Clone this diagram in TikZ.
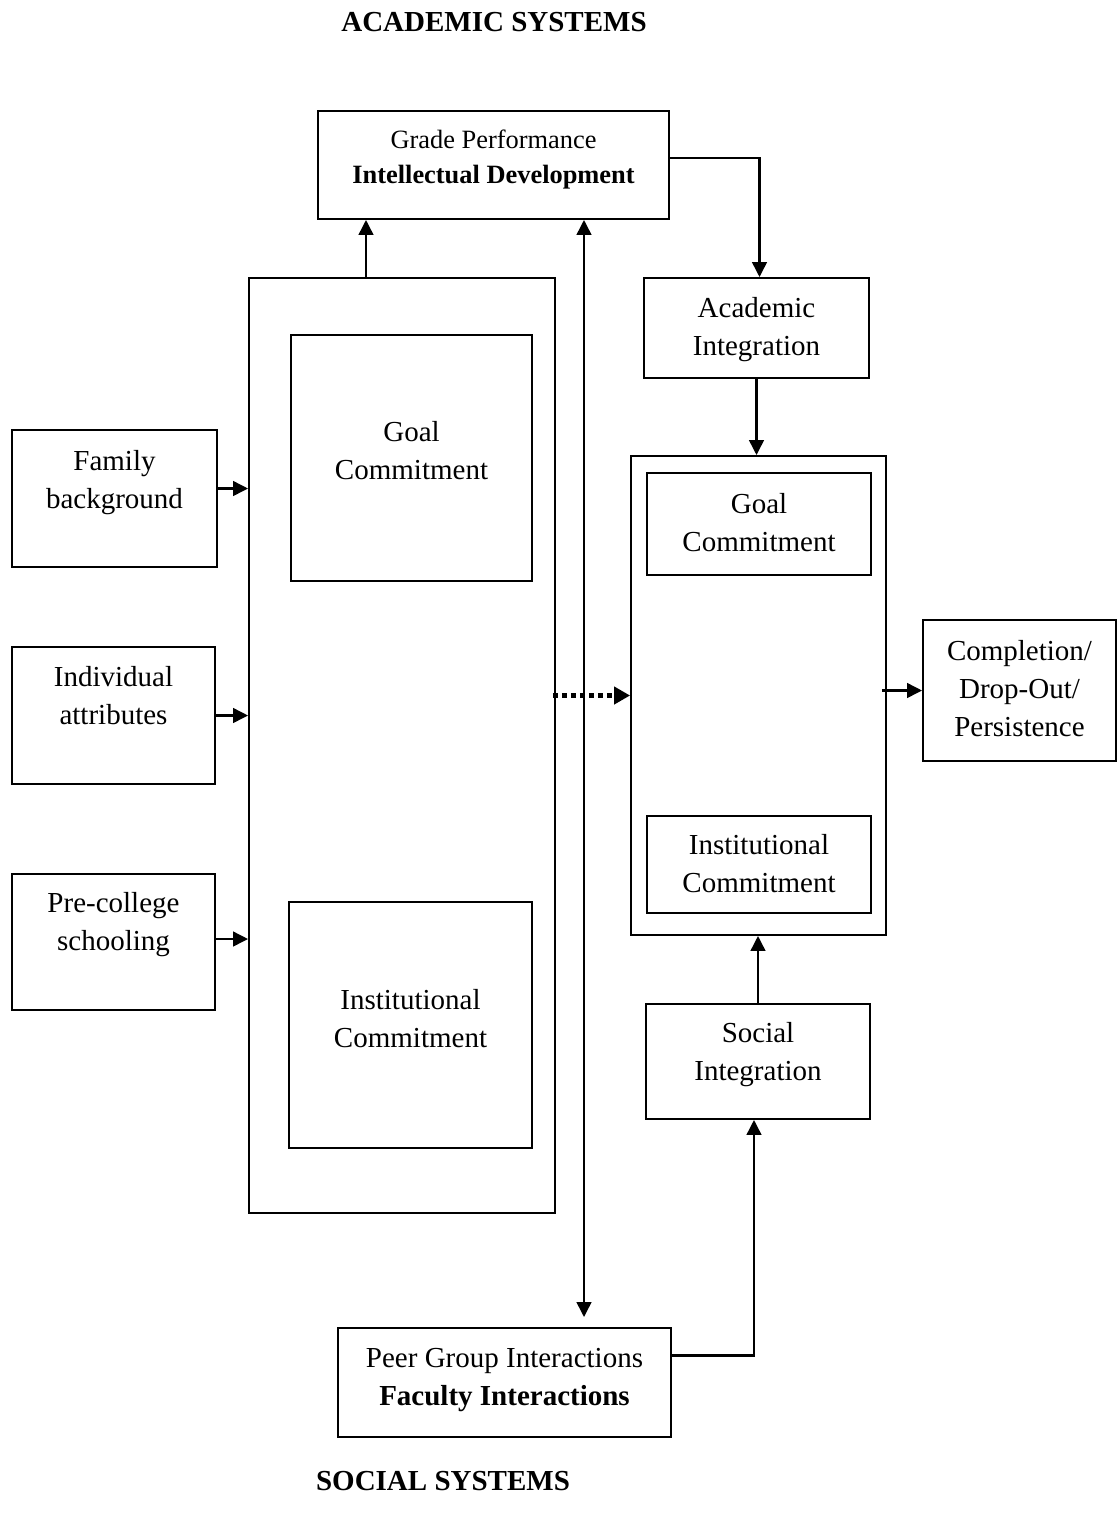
\documentclass[tikz,border=0pt]{standalone}
\usepackage{fontspec}
\setmainfont{Liberation Serif}
\usepackage{tikz}
\usetikzlibrary{arrows.meta,positioning,calc}
\newcommand{\boxlines}[2]{\raisebox{#1}[\height][\depth]{\begin{tabular}{@{}c@{}}#2\end{tabular}}}

\begin{document}
\begin{tikzpicture}[
    x=1pt, y=-1pt,
    box/.style={rectangle, draw, line width=1.8pt, inner sep=0pt, font=\fontsize{29}{38}\selectfont},
    arrow/.style={->, >={Triangle[length=15pt,width=14.5pt]}, line width=2.7pt},
    title/.style={font=\fontsize{29}{35}\selectfont\bfseries}
]
    \useasboundingbox (0,0) rectangle (1117,1524);

    % Titles
    \node[title] (acadsys) at (494,22) {ACADEMIC SYSTEMS};
    \node[title] (socsys) at (443,1481) {SOCIAL SYSTEMS};

    % Top and bottom boxes
    \node[box, minimum width=351pt, minimum height=108pt, font=\fontsize{26.4}{35}\selectfont] (grade) at (493.5,165) {\boxlines{6.5pt}{Grade Performance\\\textbf{Intellectual Development}}};
    \node[box, minimum width=333pt, minimum height=109pt] (peer) at (504.5,1382.5) {\boxlines{3.5pt}{Peer Group Interactions\\\textbf{Faculty Interactions}}};

    % Left column (background)
    \node[box, minimum width=205pt, minimum height=137pt] (family) at (114.5,498.5) {\boxlines{17pt}{Family\\background}};
    \node[box, minimum width=203pt, minimum height=137pt] (attrib) at (113.5,715.5) {\boxlines{17.5pt}{Individual\\attributes}};
    \node[box, minimum width=203pt, minimum height=136pt] (school) at (113.5,942) {\boxlines{18.5pt}{Pre-college\\schooling}};

    % Initial commitments
    \node[box, minimum width=306pt, minimum height=935pt] (stage) at (402,745.5) {};
    \node[box, minimum width=241pt, minimum height=246pt] (goalL) at (411.5,458) {\boxlines{5pt}{Goal\\Commitment}};
    \node[box, minimum width=243pt, minimum height=246pt] (instL) at (410.5,1025) {\boxlines{4.5pt}{Institutional\\Commitment}};

    % Integration and later commitments
    \node[box, minimum width=225pt, minimum height=100pt] (acad) at (756.5,328) {\boxlines{-0.5pt}{Academic\\Integration}};
    \node[box, minimum width=255pt, minimum height=479pt] (stageR) at (758.5,695.5) {};
    \node[box, minimum width=224pt, minimum height=102pt] (goalR) at (759,524) {\boxlines{-0.5pt}{Goal\\Commitment}};
    \node[box, minimum width=224pt, minimum height=97pt] (instR) at (759,864.5) {\boxlines{-1pt}{Institutional\\Commitment}};
    \node[box, minimum width=224pt, minimum height=115pt] (social) at (758,1061.5) {\boxlines{7.5pt}{Social\\Integration}};

    % Outcome
    \node[box, minimum width=193pt, minimum height=141pt] (outcome) at (1019.5,690.5) {\boxlines{-0.5pt}{Completion/\\Drop-Out/\\Persistence}};

    % Helper points
    \coordinate (famout) at ([yshift=10pt]family.east);
    \coordinate (schout) at ([yshift=3pt]school.east);
    \coordinate (stageup) at ([xshift=-36pt]stage.north);
    \coordinate (link) at (584,0);
    \coordinate (gradeout) at ([yshift=7pt]grade.east);
    \coordinate (peerout) at ([yshift=27pt]peer.east);

    % Arrows
    \draw[arrow] (famout) -- (famout -| stage.west);
    \draw[arrow] (attrib.east) -- (attrib.east -| stage.west);
    \draw[arrow] (schout) -- (schout -| stage.west);
    \draw[arrow] (stageup) -- (stageup |- grade.south);
    \draw[arrow, <->, shorten >=10pt] (grade.south -| link) -- (peer.north -| link);
    \draw[arrow] (gradeout) -| ([xshift=3pt]acad.north);
    \draw[arrow] (acad.south) -- (acad.south |- stageR.north);
    \draw[-{Triangle[length=16pt,width=17pt]}, line width=5pt, dash pattern=on 5.5pt off 3.5pt, shorten <=-3pt] (stageR.west -| stage.east) -- (stageR.west);
    \draw[arrow, shorten <=-5pt] (outcome.west -| stageR.east) -- (outcome.west);
    \draw[arrow] (social.north) -- (social.north |- stageR.south);
    \draw[arrow] (peerout) -| ([xshift=-4pt]social.south);
\end{tikzpicture}
\end{document}
